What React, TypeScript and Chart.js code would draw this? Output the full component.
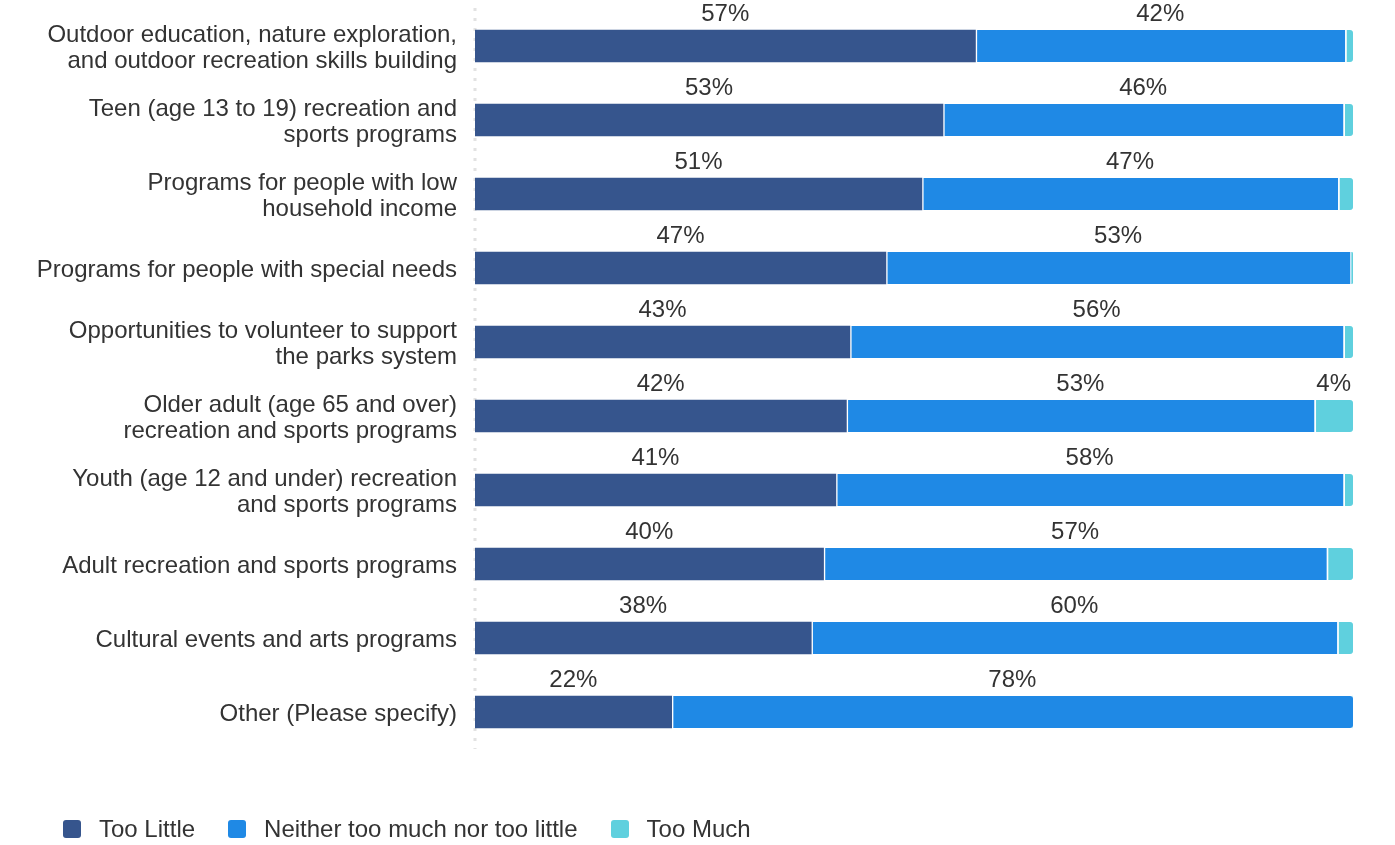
import React, { useEffect, useRef } from "react";
import { Chart, registerables } from "chart.js";

Chart.register(...registerables);

const categories: (string | string[])[] = [
  ["Outdoor education, nature exploration,", "and outdoor recreation skills building"],
  ["Teen (age 13 to 19) recreation and", "sports programs"],
  ["Programs for people with low", "household income"],
  "Programs for people with special needs",
  ["Opportunities to volunteer to support", "the parks system"],
  ["Older adult (age 65 and over)", "recreation and sports programs"],
  ["Youth (age 12 and under) recreation", "and sports programs"],
  "Adult recreation and sports programs",
  "Cultural events and arts programs",
  "Other (Please specify)",
];

const tooLittle = [57.0, 53.3, 50.9, 46.8, 42.7, 42.3, 41.1, 39.7, 38.3, 22.4];
const neither = [42.1, 45.6, 47.4, 52.9, 56.2, 53.3, 57.8, 57.3, 59.9, 77.6];
const tooMuch = [0.9, 1.1, 1.7, 0.3, 1.1, 4.4, 1.1, 3.0, 1.8, 0];

const seriesNames = ["Too Little", "Neither too much nor too little", "Too Much"];
const seriesColors = ["#36558d", "#1f89e5", "#5fd0de"];

const FONT = "'Liberation Sans', Arial, sans-serif";
const TEXT = "#333333";
const FONT_SIZE = 24;

const allSeries = [tooLittle, neither, tooMuch];

function lastNonZero(i: number) {
  let last = 0;
  for (let d = 0; d < allSeries.length; d++) if (allSeries[d][i] > 0) last = d;
  return last;
}

const axisLinePlugin = {
  id: "dottedAxis",
  beforeDatasetsDraw(chart: any) {
    const { ctx, chartArea } = chart;
    ctx.save();
    ctx.strokeStyle = "#e2e2e2";
    ctx.lineWidth = 3;
    ctx.setLineDash([3, 7]);
    ctx.beginPath();
    ctx.moveTo(chartArea.left, chartArea.top - 1);
    ctx.lineTo(chartArea.left, chartArea.bottom);
    ctx.stroke();
    ctx.restore();
  },
};

const labelPlugin = {
  id: "segLabels",
  afterDatasetsDraw(chart: any) {
    const ctx = chart.ctx;
    ctx.save();
    ctx.font = `${FONT_SIZE}px ${FONT}`;
    ctx.fillStyle = TEXT;
    ctx.textAlign = "center";
    ctx.textBaseline = "alphabetic";
    chart.data.datasets.forEach((ds: any, di: number) => {
      const meta = chart.getDatasetMeta(di);
      meta.data.forEach((bar: any, i: number) => {
        const v = ds.data[i];
        if (v < 3.5) return;
        const cx = (bar.x + bar.base) / 2;
        ctx.fillText(Math.round(v) + "%", cx, bar.y - 25);
      });
    });
    ctx.restore();
  },
};

export default function App() {
  const ref = useRef<HTMLCanvasElement>(null);

  useEffect(() => {
    if (!ref.current) return;
    const chart = new Chart(ref.current, {
      type: "bar",
      data: {
        labels: categories,
        datasets: allSeries.map((data, d) => ({
          label: seriesNames[d],
          data,
          backgroundColor: seriesColors[d],
          borderColor: "#ffffff",
          borderWidth: d === 0 ? 0 : { left: 2, top: 0, right: 0, bottom: 0 },
          borderSkipped: false,
          barThickness: 32,
          borderRadius: (c: any) =>
            lastNonZero(c.dataIndex) === d
              ? { topLeft: 0, bottomLeft: 0, topRight: 3, bottomRight: 3 }
              : { topLeft: 0, bottomLeft: 0, topRight: 0, bottomRight: 0 },
        })),
      },
      options: {
        indexAxis: "y",
        animation: false,
        responsive: true,
        maintainAspectRatio: false,
        layout: { padding: { top: 9, right: 42, bottom: 19, left: 0 } },
        plugins: {
          legend: { display: false },
          tooltip: { enabled: false },
        },
        scales: {
          x: {
            stacked: true,
            min: 0,
            max: 100,
            display: false,
          },
          y: {
            stacked: true,
            grid: { display: false, drawTicks: false },
            border: { display: false },
            ticks: {
              color: TEXT,
              padding: 18,
              labelOffset: 2,
              font: { family: FONT, size: FONT_SIZE, lineHeight: 26 / FONT_SIZE },
            },
            afterFit: (scale: any) => {
              scale.width = 475;
              scale.paddingTop = 0;
              scale.paddingBottom = 0;
            },
          },
        },
      },
      plugins: [axisLinePlugin, labelPlugin],
    });
    return () => chart.destroy();
  }, []);

  return (
    <div style={{ position: "fixed", left: 0, top: 0, width: 1395, height: 845 }}>
      <div style={{ position: "absolute", left: 0, top: 0, width: 1395, height: 768 }}>
        <canvas ref={ref} />
      </div>
      <div
        style={{
          position: "absolute",
          left: 63,
          top: 816,
          display: "flex",
          alignItems: "center",
          fontFamily: FONT,
          fontSize: FONT_SIZE,
          color: TEXT,
          lineHeight: "26px",
          whiteSpace: "nowrap",
        }}
      >
        {seriesNames.map((n, i) => (
          <div key={n} style={{ display: "flex", alignItems: "center", marginRight: 33 }}>
            <span
              style={{
                display: "inline-block",
                width: 18,
                height: 18,
                borderRadius: 3,
                background: seriesColors[i],
                marginRight: 18,
              }}
            />
            <span>{n}</span>
          </div>
        ))}
      </div>
    </div>
  );
}
